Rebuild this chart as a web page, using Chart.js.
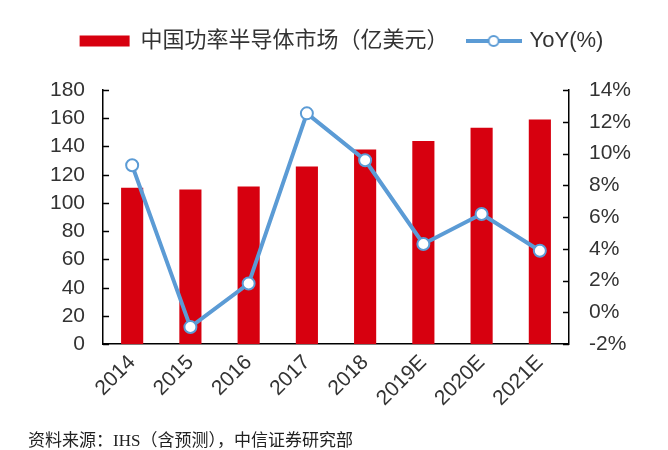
<!DOCTYPE html>
<html>
<head>
<meta charset="utf-8">
<script src="https://cdn.jsdelivr.net/npm/chart.js@4"></script>
<style>
  html, body { margin: 0; padding: 0; background: #fff; }
  #wrap { position: relative; width: 668px; height: 450px; }
  #note { position: absolute; left: 28px; top: 426px; font: 17px "Liberation Serif", "Noto Sans CJK SC", serif; color: #222; }
</style>
</head>
<body>
<div id="wrap">
  <canvas id="ChartPower" width="668" height="450"></canvas>
  <div id="note">资料来源：IHS（含预测），中信证券研究部</div>
</div>
<script>
// dados
const years = ['2014', '2015', '2016', '2017', '2018', '2019E', '2020E', '2021E'];
const marketSize = [110.8, 109.6, 111.7, 125.9, 137.8, 143.9, 153.2, 159.1];   // 亿美元
const yoyPct = [9.26, -0.92, 1.82, 12.53, 9.58, 4.31, 6.2, 3.88];             // %
const leftTicks = { min: 0, max: 180, step: 20 };
const rightTicks = { min: -2, max: 14, step: 2 };

const RED = '#d7000f';
const BLUE = '#5b9bd5';
const FONT = '"Liberation Sans", "Noto Sans CJK SC", sans-serif';

// símbolo da legenda da linha (linha + círculo)
const lineIcon = document.createElement('canvas');
lineIcon.width = 56; lineIcon.height = 14;
(function () {
    const c = lineIcon.getContext('2d');
    c.strokeStyle = BLUE; c.lineWidth = 4;
    c.beginPath(); c.moveTo(0, 7); c.lineTo(56, 7); c.stroke();
    c.fillStyle = '#fff'; c.lineWidth = 2;
    c.beginPath(); c.arc(28, 7, 5, 0, Math.PI * 2); c.fill(); c.stroke();
})();

// espaço extra abaixo da legenda
const legendGap = {
    id: 'legendGap',
    beforeInit(chart) {
        const fit = chart.legend.fit;
        chart.legend.fit = function () {
            fit.bind(chart.legend)();
            this.height += 28;
        };
    }
};

// marcas dos eixos para dentro
const innerTicks = {
    id: 'innerTicks',
    afterDatasetsDraw(chart) {
        const ctx = chart.ctx;
        ctx.save();
        ctx.strokeStyle = '#000';
        ctx.lineWidth = 1.5;
        ['y', 'y1'].forEach(function (id) {
            const s = chart.scales[id];
            const x = id === 'y' ? s.right : s.left;
            const dir = id === 'y' ? 1 : -1;
            s.ticks.forEach(function (t) {
                const py = Math.round(s.getPixelForValue(t.value)) + 0.5;
                ctx.beginPath();
                ctx.moveTo(x, py);
                ctx.lineTo(x + dir * 6, py);
                ctx.stroke();
            });
        });
        ctx.restore();
    }
};

const ctx = document.getElementById('ChartPower').getContext('2d');
const myChart = new Chart(ctx, {
    data: {
        labels: years,
        datasets: [{
            type: 'bar',
            label: '中国功率半导体市场（亿美元）',
            data: marketSize,
            backgroundColor: RED,
            borderWidth: 0,
            barPercentage: 0.38,
            categoryPercentage: 1,
            yAxisID: 'y',
            order: 2
        }, {
            type: 'line',
            label: 'YoY(%)',
            data: yoyPct,
            borderColor: BLUE,
            borderWidth: 4,
            pointRadius: 6,
            pointBorderWidth: 2,
            pointBackgroundColor: '#fff',
            pointBorderColor: BLUE,
            tension: 0,
            yAxisID: 'y1',
            order: 1
        }]
    },
    options: {
        responsive: false,
        animation: false,
        layout: { padding: { left: 32, right: 17, top: 10, bottom: 33 } },
        plugins: {
            tooltip: { enabled: false },
            legend: {
                position: 'top',
                labels: {
                    font: { family: FONT, size: 22 },
                    color: '#333',
                    usePointStyle: true,
                    pointStyleWidth: 50,
                    boxHeight: 11,
                    padding: 20,
                    generateLabels: function (chart) {
                        const items = Chart.defaults.plugins.legend.labels.generateLabels(chart);
                        items.forEach(function (it) {
                            it.pointStyle = it.datasetIndex === 0 ? 'rect' : lineIcon;
                            if (it.datasetIndex === 0) { it.fillStyle = RED; it.strokeStyle = RED; it.lineWidth = 0; }
                        });
                        return items.sort(function (a, b) { return a.datasetIndex - b.datasetIndex; });
                    }
                }
            }
        },
        scales: {
            x: {
                offset: true,
                grid: { display: false, drawTicks: false },
                border: { color: '#000', width: 1.5 },
                ticks: {
                    font: { family: FONT, size: 21 },
                    color: '#333',
                    maxRotation: 45,
                    minRotation: 45,
                    padding: 6
                }
            },
            y: {
                position: 'left',
                min: leftTicks.min,
                max: leftTicks.max,
                grid: { display: false, drawTicks: false },
                border: { color: '#000', width: 1.5 },
                ticks: {
                    stepSize: leftTicks.step,
                    font: { family: FONT, size: 21 },
                    color: '#333',
                    padding: 18
                }
            },
            y1: {
                position: 'right',
                min: rightTicks.min,
                max: rightTicks.max,
                grid: { display: false, drawTicks: false },
                border: { color: '#000', width: 1.5 },
                ticks: {
                    stepSize: rightTicks.step,
                    font: { family: FONT, size: 21 },
                    color: '#333',
                    padding: 20,
                    callback: function (v) { return v + '%'; }
                }
            }
        }
    },
    plugins: [legendGap, innerTicks]
});
</script>
</body>
</html>
